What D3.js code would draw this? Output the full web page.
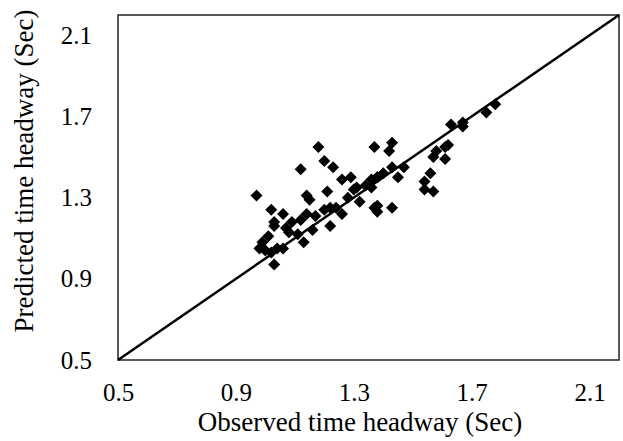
<!DOCTYPE html>
<html>
<head>
<meta charset="utf-8">
<script src="https://cdn.jsdelivr.net/npm/d3@7"></script>
<style>
  body { margin: 0; background: #fff; }
  text { font-family: "Liberation Serif", "Times New Roman", serif; fill: #000; }
</style>
</head>
<body>
<div id="chart"></div>
<script>
(function() {

// observed vs predicted headway (sec)
const observed = [
  0.97, 0.98, 1.00, 1.03, 1.01, 1.02, 1.03, 1.03, 1.06, 1.07,
  1.08, 1.04, 1.06, 1.02, 1.11, 1.13, 1.12, 1.14, 1.15, 1.14,
  1.12, 1.16, 1.18, 1.20, 1.23, 1.21, 1.26, 1.29, 1.31, 1.36,
  1.38, 1.37, 1.20, 1.22, 1.32, 1.26, 1.22, 1.37, 1.28, 1.24,
  1.43, 1.42, 1.43, 1.47, 1.45, 1.40, 1.38, 1.36, 1.56, 1.54,
  1.54, 1.57, 1.38, 1.38, 1.43, 1.58, 1.61, 1.57, 1.62, 1.78,
  1.75, 1.67, 1.63, 1.61, 1.67, 1.34, 1.30, 1.17, 1.09, 0.99
];
const predicted = [
  1.31, 1.05, 1.04, 0.97, 1.11, 1.24, 1.18, 1.16, 1.22, 1.15,
  1.13, 1.05, 1.05, 1.03, 1.12, 1.08, 1.44, 1.31, 1.29, 1.22,
  1.19, 1.14, 1.55, 1.48, 1.45, 1.33, 1.39, 1.40, 1.35, 1.39,
  1.40, 1.55, 1.24, 1.25, 1.28, 1.22, 1.16, 1.25, 1.30, 1.25,
  1.57, 1.53, 1.45, 1.45, 1.40, 1.42, 1.40, 1.35, 1.42, 1.38,
  1.34, 1.33, 1.26, 1.23, 1.25, 1.53, 1.49, 1.50, 1.56, 1.76,
  1.72, 1.67, 1.66, 1.55, 1.65, 1.36, 1.34, 1.21, 1.18, 1.08
];
const ticks = [0.5, 0.9, 1.3, 1.7, 2.1];
const extent = [0.5, 2.2];

const width = 623, height = 441;
const margin = {top: 15, right: 4, bottom: 81, left: 118};

const svg = d3.select("#chart")
  .append("svg")
  .attr("width", width)
  .attr("height", height);

const x = d3.scaleLinear()
  .domain(extent)
  .range([margin.left, width - margin.right]);

const y = d3.scaleLinear()
  .domain(extent)
  .range([height - margin.bottom, margin.top]);

// frame
svg.append("rect")
  .attr("x", x(extent[0]))
  .attr("y", y(extent[1]))
  .attr("width", x(extent[1]) - x(extent[0]))
  .attr("height", y(extent[0]) - y(extent[1]))
  .attr("fill", "none")
  .attr("stroke", "#222")
  .attr("stroke-width", 1.5);

// axes, labels only
const xAxis = svg.append("g")
  .attr("transform", `translate(0,${y(extent[0])})`)
  .call(d3.axisBottom(x).tickValues(ticks).tickSize(0).tickPadding(23).tickFormat(d3.format(".1f")));
xAxis.select(".domain").remove();
xAxis.selectAll("text").attr("font-size", 25).attr("font-family", null);

const yAxis = svg.append("g")
  .attr("transform", `translate(${x(extent[0])},0)`)
  .call(d3.axisLeft(y).tickValues(ticks).tickSize(0).tickPadding(26).tickFormat(d3.format(".1f")));
yAxis.select(".domain").remove();
yAxis.selectAll("text").attr("font-size", 25).attr("font-family", null);

// 1:1 line
svg.append("line")
  .attr("x1", x(extent[0]))
  .attr("y1", y(extent[0]))
  .attr("x2", x(extent[1]))
  .attr("y2", y(extent[1]))
  .attr("stroke", "#000")
  .attr("stroke-width", 2.5);

// points
const diamond = d3.symbol().type(d3.symbolSquare).size(72);
svg.append("g")
  .selectAll("path")
  .data(d3.range(observed.length))
  .join("path")
  .attr("d", diamond)
  .attr("transform", i => `translate(${x(observed[i])},${y(predicted[i])}) rotate(45)`)
  .attr("fill", "#000");

// titles
svg.append("text")
  .attr("x", 360)
  .attr("y", 431)
  .attr("text-anchor", "middle")
  .attr("font-size", 27)
  .text("Observed time headway (Sec)");

svg.append("text")
  .attr("transform", "translate(33,171) rotate(-90)")
  .attr("text-anchor", "middle")
  .attr("font-size", 27)
  .text("Predicted time headway (Sec)");

})();
</script>
</body>
</html>
